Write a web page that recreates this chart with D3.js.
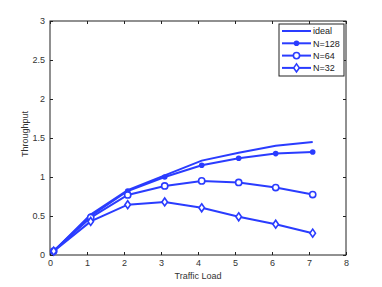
<!DOCTYPE html>
<meta charset="utf-8">
<style>
  body { margin: 0; background: #fff; }
  text { font-family: "Liberation Sans", Arial, sans-serif; }
</style>
<script src="https://d3js.org/d3.v7.min.js"></script>
<div id="chart"></div>
<script>
  // values
  const load = [0.1, 1.1, 2.1, 3.1, 4.1, 5.1, 6.1, 7.1];
  const ideal = [0.05, 0.52, 0.83, 1.02, 1.21, 1.31, 1.40, 1.45];
  const n128 = [0.05, 0.50, 0.82, 1.00, 1.15, 1.24, 1.30, 1.32];
  const n64 = [0.05, 0.48, 0.77, 0.885, 0.95, 0.93, 0.865, 0.775];
  const n32 = [0.05, 0.43, 0.645, 0.68, 0.605, 0.49, 0.395, 0.28];
  const xTicks = [0, 1, 2, 3, 4, 5, 6, 7, 8];
  const yTicks = [0, 0.5, 1, 1.5, 2, 2.5, 3];

  const series = [
    {name: "ideal", values: ideal, marker: "none"},
    {name: "N=128", values: n128, marker: "dot"},
    {name: "N=64", values: n64, marker: "circle"},
    {name: "N=32", values: n32, marker: "diamond"}
  ];

  const W = 382, H = 287;
  const margin = {top: 21, right: 36, bottom: 32, left: 50};
  const width = W - margin.left - margin.right;
  const height = H - margin.top - margin.bottom;
  const blue = "#2a3cff";
  const fmt = d3.format("~g");

  const svg = d3.select("#chart").append("svg")
      .attr("width", W).attr("height", H)
    .append("g")
      .attr("transform", "translate(" + margin.left + "," + margin.top + ")");

  const x = d3.scaleLinear().domain([0, 8]).range([0, width]);
  const y = d3.scaleLinear().domain([0, 3]).range([height, 0]);

  function styleAxis(g) {
    g.select(".domain").remove();
    g.selectAll("line").attr("stroke", "#222");
    g.selectAll("text").attr("font-size", "9px").attr("fill", "#333");
  }

  // axes with inward ticks (box style)
  svg.append("g").attr("transform", "translate(0," + height + ")")
      .call(d3.axisBottom(x).tickValues(xTicks).tickFormat(fmt).tickSizeInner(-3).tickSizeOuter(0).tickPadding(5))
      .call(styleAxis);
  svg.append("g")
      .call(d3.axisTop(x).tickValues(xTicks).tickSizeInner(-3).tickSizeOuter(0).tickFormat(""))
      .call(styleAxis);
  svg.append("g")
      .call(d3.axisLeft(y).tickValues(yTicks).tickFormat(fmt).tickSizeInner(-3).tickSizeOuter(0).tickPadding(5))
      .call(styleAxis);
  svg.append("g").attr("transform", "translate(" + width + ",0)")
      .call(d3.axisRight(y).tickValues(yTicks).tickSizeInner(-3).tickSizeOuter(0).tickFormat(""))
      .call(styleAxis);

  svg.append("rect")
      .attr("width", width).attr("height", height)
      .attr("fill", "none").attr("stroke", "#222").attr("stroke-width", 1);

  const line = d3.line()
      .x(function (d, i) { return x(load[i]); })
      .y(function (d) { return y(d); });

  function drawMarker(g, type, cx, cy) {
    if (type === "dot") {
      g.append("circle").attr("cx", cx).attr("cy", cy).attr("r", 2.8).attr("fill", blue);
    } else if (type === "circle") {
      g.append("circle").attr("cx", cx).attr("cy", cy).attr("r", 3.1)
          .attr("fill", "#fff").attr("stroke", blue).attr("stroke-width", 1.6);
    } else if (type === "diamond") {
      g.append("path")
          .attr("d", "M" + cx + "," + (cy - 4) + "L" + (cx + 2.8) + "," + cy +
                     "L" + cx + "," + (cy + 4) + "L" + (cx - 2.8) + "," + cy + "Z")
          .attr("fill", "#fff").attr("stroke", blue).attr("stroke-width", 1.6);
    }
  }

  series.forEach(function (s) {
    svg.append("path")
        .datum(s.values)
        .attr("d", line)
        .attr("fill", "none").attr("stroke", blue).attr("stroke-width", 2);
    const mg = svg.append("g");
    s.values.forEach(function (v, i) {
      drawMarker(mg, s.marker, x(load[i]), y(v));
    });
  });

  // axis labels
  svg.append("text")
      .attr("x", width / 2).attr("y", height + 24)
      .attr("text-anchor", "middle").attr("font-size", "9px").attr("fill", "#333")
      .text("Traffic Load");
  svg.append("text")
      .attr("transform", "rotate(-90)")
      .attr("x", -height / 2 + 4).attr("y", -22)
      .attr("text-anchor", "middle").attr("font-size", "9px").attr("fill", "#333")
      .text("Throughput");

  // legend
  const lg = svg.append("g").attr("transform", "translate(" + (width - 67) + ",3)");
  lg.append("rect").attr("width", 65).attr("height", 52)
      .attr("fill", "#fff").attr("stroke", "#222").attr("stroke-width", 1);
  series.forEach(function (s, i) {
    const ly = 7 + i * 12.3;
    lg.append("line").attr("x1", 3).attr("x2", 32).attr("y1", ly).attr("y2", ly)
        .attr("stroke", blue).attr("stroke-width", 2);
    drawMarker(lg, s.marker, 17.5, ly);
    lg.append("text").attr("x", 34).attr("y", ly + 3.2)
        .attr("font-size", "9px").attr("fill", "#222").text(s.name);
  });
</script>
